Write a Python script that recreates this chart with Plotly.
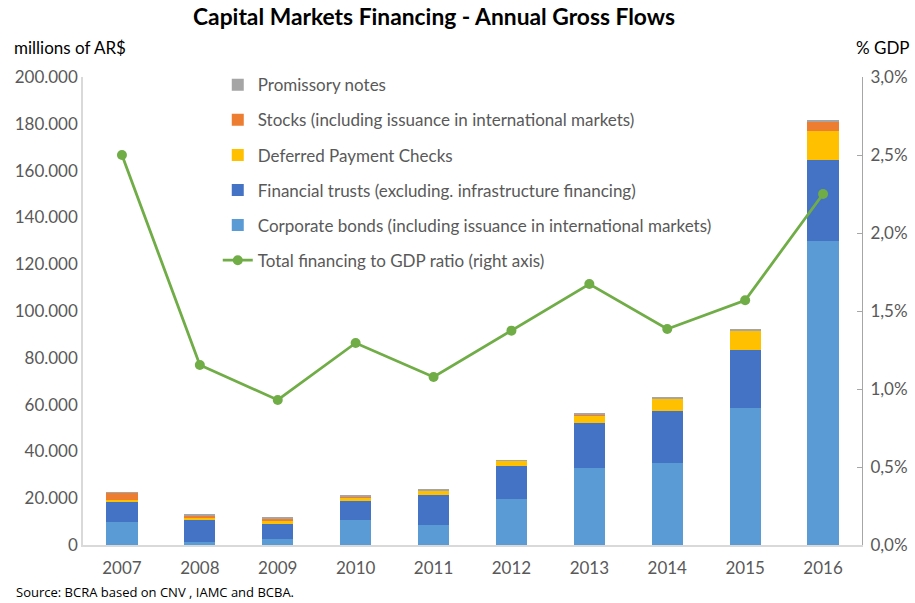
import plotly.graph_objects as go

years = ["2007", "2008", "2009", "2010", "2011", "2012", "2013", "2014", "2015", "2016"]
corporate_bonds = [9800, 1300, 2600, 10700, 8500, 19700, 32900, 35000, 58400, 129800]
financial_trusts = [8400, 9800, 6700, 8100, 12900, 13900, 19400, 22300, 25100, 34900]
deferred_checks = [900, 400, 800, 1300, 1700, 2300, 3000, 5200, 8100, 12200]
stocks = [3300, 1300, 1300, 800, 300, 300, 600, 200, 100, 4000]
promissory_notes = [200, 300, 200, 400, 200, 100, 100, 500, 500, 400]
gdp_ratio = [0.0250, 0.01154, 0.0093, 0.01295, 0.01077, 0.01374, 0.01673, 0.01385, 0.01569, 0.0225]

series = [
    ("Promissory notes", promissory_notes, "#A5A5A5", 1),
    ("Stocks (including issuance in international markets)", stocks, "#ED7D31", 2),
    ("Deferred Payment Checks", deferred_checks, "#FFC000", 3),
    ("Financial trusts (excluding. infrastructure financing)", financial_trusts, "#4472C4", 4),
    ("Corporate bonds (including issuance in international markets)", corporate_bonds, "#5B9BD5", 5),
]

fig = go.Figure()
# stacking order bottom -> top
for name, vals, color, rank in reversed(series):
    fig.add_trace(go.Bar(
        x=years, y=vals, name=name, marker=dict(color=color, line=dict(width=0)),
        legendrank=rank, legendgroup=name,
    ))

fig.add_trace(go.Scatter(
    x=years, y=gdp_ratio, name="Total financing to GDP ratio (right axis)",
    mode="lines+markers", yaxis="y2",
    line=dict(color="#70AD47", width=2.8), marker=dict(color="#70AD47", size=10),
    legendrank=6, legendgroup="line",
))

font_main = "Lato, Arial, sans-serif"
grey = "#595959"

fig.update_layout(
    width=915, height=603,
    barmode="stack", bargap=0.6,
    separators=",.",
    plot_bgcolor="white", paper_bgcolor="white",
    font=dict(family=font_main, size=17, color=grey),
    margin=dict(l=83, r=53, t=77, b=58, autoexpand=False),
    title=dict(text="<b>Capital Markets Financing - Annual Gross Flows</b>",
               xref="container", x=0.4743, xanchor="center",
               yref="container", y=0.971, yanchor="middle",
               font=dict(family=font_main, size=22.8, color="black")),
    xaxis=dict(range=[-0.5, 9.5], showline=True, linecolor="#D9D9D9", linewidth=1.5, ticks="",
               ticklabelstandoff=7, automargin=False,
               tickfont=dict(size=17, color=grey, family=font_main), showgrid=False),
    yaxis=dict(range=[0, 200000], dtick=20000, tickformat=",d", showgrid=False,
               showline=True, linecolor="#D9D9D9", linewidth=1.5, ticks="",
               zeroline=False, ticklabelstandoff=0, automargin=False,
               tickfont=dict(size=17, color=grey, family=font_main)),
    yaxis2=dict(range=[0, 0.03], dtick=0.005, tickformat=".1%", overlaying="y", side="right",
                showgrid=False, showline=True, linecolor="#A6A6A6", linewidth=1,
                ticks="inside", ticklen=5, tickcolor="#A6A6A6", zeroline=False,
                ticklabelstandoff=4, automargin=False,
                tickfont=dict(size=17, color=grey, family=font_main)),
    legend=dict(x=0.173, y=1.021, xanchor="left", yanchor="top",
                traceorder="grouped", tracegroupgap=10,
                font=dict(size=17, color=grey, family=font_main),
                bgcolor="rgba(0,0,0,0)"),
    showlegend=True,
)

fig.add_annotation(text="millions of AR$", xref="paper", yref="paper", x=-0.0911, y=1.062,
                   xanchor="left", yanchor="middle", showarrow=False,
                   font=dict(size=17, color="black", family=font_main))
fig.add_annotation(text="% GDP", xref="paper", yref="paper", x=1.0642, y=1.062,
                   xanchor="right", yanchor="middle", showarrow=False,
                   font=dict(size=17, color="black", family=font_main))
fig.add_annotation(text="Source: BCRA based on CNV , IAMC and BCBA.", xref="paper", yref="paper",
                   x=-0.0886, y=-0.1004, xanchor="left", yanchor="middle", showarrow=False,
                   font=dict(size=13, color="black", family="Open Sans, Arial, sans-serif"))

fig.write_html("out.html", config={"displayModeBar": False},
               post_script="document.body.style.margin='0px';document.body.style.overflow='hidden';")
